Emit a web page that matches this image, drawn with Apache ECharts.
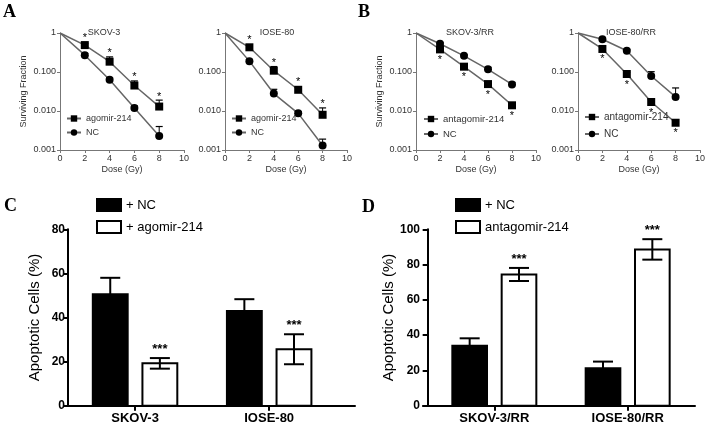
<!DOCTYPE html>
<html>
<head>
<meta charset="utf-8">
<script src="https://cdn.jsdelivr.net/npm/echarts@6/dist/echarts.min.js"></script>
<style>
html, body { margin: 0; padding: 0; background: #fff; }
#chart { width: 708px; height: 426px; }
</style>
</head>
<body>
<div id="chart"></div>
<script>
// ---- clonogenic survival (A, B) ----
var doses = [0, 2, 4, 6, 8];
var sigMarks = [0, 1, 1, 1, 1];

var skovAgo = [1, 0.49, 0.184, 0.045, 0.013];
var skovAgoSd = [0, 0.05, 0.06, 0.014, 0.006];
var skovNc = [1, 0.27, 0.063, 0.012, 0.0023];
var skovNcSd = [0, 0.03, 0.008, 0.0015, 0.0017];

var ioseAgo = [1, 0.43, 0.108, 0.035, 0.008];
var ioseAgoSd = [0, 0.05, 0.03, 0.006, 0.004];
var ioseNc = [1, 0.19, 0.028, 0.0087, 0.0013];
var ioseNcSd = [0, 0.02, 0.008, 0.001, 0.0006];

var skovRrAnt = [1, 0.38, 0.137, 0.049, 0.014];
var skovRrAntSd = [0, 0.03, 0.015, 0.006, 0.002];
var skovRrNc = [1, 0.53, 0.26, 0.117, 0.048];
var skovRrNcSd = [0, 0.04, 0.02, 0.015, 0.006];

var ioseRrAnt = [1, 0.39, 0.089, 0.017, 0.005];
var ioseRrAntSd = [0, 0.04, 0.01, 0.003, 0.001];
var ioseRrNc = [1, 0.69, 0.35, 0.079, 0.023];
var ioseRrNcSd = [0, 0.05, 0.03, 0.023, 0.016];

// ---- apoptosis (C, D) ----
var catsC = ['SKOV-3', 'IOSE-80'];
var ncC = [50.6, 43.0];
var ncCSd = [7.4, 5.3];
var agoC = [19.2, 25.6];
var agoCSd = [2.4, 6.8];
var sigC = [1, 1];

var catsD = ['SKOV-3/RR', 'IOSE-80/RR'];
var ncD = [34.0, 21.2];
var ncDSd = [4.2, 3.8];
var antD = [74.4, 88.6];
var antDSd = [3.7, 5.8];
var sigD = [1, 1];

var FONT = 'Liberation Sans';
var BAR_W = 0.52, BAR_OFF = 0.37;

var topPanels = [
	{ left: 60, width: 124, title: 'SKOV-3', titleX: 104, treat: 'agomir-214', t: skovAgo, tSd: skovAgoSd, nc: skovNc, ncSd: skovNcSd, star: 'up', yName: true, lgLeft: 61, lgTop: 109, lgGap: 5, lgFont: 9 },
	{ left: 225, width: 122, title: 'IOSE-80', titleX: 277, treat: 'agomir-214', t: ioseAgo, tSd: ioseAgoSd, nc: ioseNc, ncSd: ioseNcSd, star: 'up', yName: false, lgLeft: 226, lgTop: 109, lgGap: 5, lgFont: 9 },
	{ left: 416, width: 120, title: 'SKOV-3/RR', titleX: 470, treat: 'antagomir-214', t: skovRrAnt, tSd: skovRrAntSd, nc: skovRrNc, ncSd: skovRrNcSd, star: 'down', yName: true, lgLeft: 418, lgTop: 109, lgGap: 5, lgFont: 9.5 },
	{ left: 578, width: 125, title: 'IOSE-80/RR', titleX: 631, treat: 'antagomir-214', t: ioseRrAnt, tSd: ioseRrAntSd, nc: ioseRrNc, ncSd: ioseRrNcSd, star: 'down', yName: false, lgLeft: 579, lgTop: 107, lgGap: 7, lgFont: 10 }
];

var grids = [], xAxes = [], yAxes = [], series = [], legends = [], graphics = [];
var errSeries = [];

function logLabel(v)
{
	if (v >= 0.999) return '1';
	return v.toFixed(3);
}

function lineData(means)
{
	return doses.map(function(d, i){
		if (i === 0) return { value: [d, means[i]], symbol: 'none' };
		return [d, means[i]];
	});
}

function makeErrSeries(gi, means, sds, star)
{
	var data = doses.map(function(d, i){ return [d, means[i], sds[i], star ? sigMarks[i] : 0]; });
	return {
		type: 'custom', xAxisIndex: gi, yAxisIndex: gi, z: 1, silent: true, data: data,
		renderItem: function(params, api){
			var x = api.value(0), m = api.value(1), sd = api.value(2), s = api.value(3);
			var c = api.coord([x, m]);
			var children = [];
			var topY = c[1];
			if (sd > 0)
			{
				var t = api.coord([x, m + sd]);
				topY = t[1];
				children.push({ type: 'line', shape: { x1: c[0], y1: c[1], x2: t[0], y2: t[1] }, style: { stroke: '#000', lineWidth: 1 } });
				children.push({ type: 'line', shape: { x1: t[0] - 3.5, y1: t[1], x2: t[0] + 3.5, y2: t[1] }, style: { stroke: '#000', lineWidth: 1.2 } });
			}
			if (s && star === 'up')
			{
				children.push({ type: 'text', style: { text: '*', x: c[0], y: Math.min(topY, c[1] - 4) + 2, align: 'center', verticalAlign: 'bottom', font: '11px ' + FONT, fill: '#000' } });
			}
			else if (s && star === 'down')
			{
				children.push({ type: 'text', style: { text: '*', x: c[0], y: c[1] + 5, align: 'center', verticalAlign: 'top', font: '11px ' + FONT, fill: '#000' } });
			}
			return { type: 'group', children: children };
		}
	};
}

topPanels.forEach(function(p, gi){
	grids.push({ left: p.left, top: 33, width: p.width, height: 117 });
	xAxes.push({
		gridIndex: gi, type: 'value', min: 0, max: 10, interval: 2,
		name: 'Dose (Gy)', nameLocation: 'middle', nameGap: 15,
		nameTextStyle: { fontSize: 9, color: '#333', fontFamily: FONT },
		axisLine: { lineStyle: { color: '#777', width: 1 } },
		axisTick: { length: 3, lineStyle: { color: '#777' } },
		axisLabel: { fontSize: 9, color: '#333', margin: 4, fontFamily: FONT },
		splitLine: { show: false }
	});
	yAxes.push({
		gridIndex: gi, type: 'log', logBase: 10, min: 0.001, max: 1,
		name: p.yName ? 'Surviving Fraction' : '', nameLocation: 'middle', nameGap: 32,
		nameTextStyle: { fontSize: 9, color: '#333', fontFamily: FONT },
		axisLine: { show: true, lineStyle: { color: '#777', width: 1 } },
		axisTick: { show: true, length: 3, lineStyle: { color: '#777' } },
		minorTick: { show: false },
		axisLabel: { fontSize: 9, color: '#333', margin: 4, fontFamily: FONT, formatter: logLabel },
		splitLine: { show: false }
	});
	series.push({
		name: p.treat, type: 'line', xAxisIndex: gi, yAxisIndex: gi, z: 3,
		data: lineData(p.t), symbol: 'rect', symbolSize: 8,
		lineStyle: { color: '#666', width: 1.5 }, itemStyle: { color: '#000' }, silent: true
	});
	series.push({
		name: 'NC', type: 'line', xAxisIndex: gi, yAxisIndex: gi, z: 3,
		data: lineData(p.nc), symbol: 'circle', symbolSize: 8,
		lineStyle: { color: '#666', width: 1.5 }, itemStyle: { color: '#000' }, silent: true
	});
	errSeries.push(makeErrSeries(gi, p.t, p.tSd, p.star));
	errSeries.push(makeErrSeries(gi, p.nc, p.ncSd, null));
	legends.push({
		left: p.lgLeft, top: p.lgTop, orient: 'vertical', itemWidth: 14, itemHeight: 8, itemGap: p.lgGap,
		selectedMode: false, data: [p.treat, 'NC'],
		textStyle: { fontSize: p.lgFont, color: '#333', fontFamily: FONT }
	});
	graphics.push({ type: 'text', x: p.titleX, y: 33, style: { text: p.title, font: '9px ' + FONT, fill: '#333', align: 'center', verticalAlign: 'middle' } });
});

var bottomPanels = [
	{ left: 68, width: 287, min: 0, max: 4.28, ymax: 80, cats: catsC, nc: ncC, ncSd: ncCSd, t: agoC, tSd: agoCSd, sig: sigC, treat: '+ agomir-214', lgLeft: 91 },
	{ left: 423, width: 272, min: -0.07, max: 4.01, ymax: 100, cats: catsD, nc: ncD, ncSd: ncDSd, t: antD, tSd: antDSd, sig: sigD, treat: 'antagomir-214', lgLeft: 450 }
];

function makeBarSeries(gi, name, cats, vals, sds, sig, offset, fill)
{
	var data = cats.map(function(c, i){ return [2 * i + 1 + offset, vals[i], sds[i], sig ? sig[i] : 0]; });
	return {
		name: name, type: 'custom', xAxisIndex: gi, yAxisIndex: gi, z: 2, silent: true,
		itemStyle: { color: fill }, data: data,
		renderItem: function(params, api){
			var x = api.value(0), v = api.value(1), sd = api.value(2), s = api.value(3);
			var top = api.coord([x, v]), base = api.coord([x, 0]);
			var w = api.size([BAR_W, 0])[0];
			var hi = api.coord([x, v + sd]), lo = api.coord([x, v - sd]);
			var children = [
				{ type: 'rect', shape: { x: top[0] - w / 2, y: top[1], width: w, height: base[1] - top[1] }, style: { fill: fill, stroke: '#000', lineWidth: 2 } },
				{ type: 'line', shape: { x1: lo[0], y1: lo[1], x2: hi[0], y2: hi[1] }, style: { stroke: '#000', lineWidth: 2 } },
				{ type: 'line', shape: { x1: hi[0] - 10, y1: hi[1], x2: hi[0] + 10, y2: hi[1] }, style: { stroke: '#000', lineWidth: 2 } },
				{ type: 'line', shape: { x1: lo[0] - 10, y1: lo[1], x2: lo[0] + 10, y2: lo[1] }, style: { stroke: '#000', lineWidth: 2 } }
			];
			if (s)
			{
				children.push({ type: 'text', style: { text: '***', x: hi[0], y: hi[1] - 2, align: 'center', verticalAlign: 'bottom', font: 'bold 13px ' + FONT, fill: '#000' } });
			}
			return { type: 'group', children: children };
		}
	};
}

bottomPanels.forEach(function(p, k){
	var gi = 4 + k;
	grids.push({ left: p.left, top: 229.3, width: p.width, height: 176.4 });
	xAxes.push({
		gridIndex: gi, type: 'value', min: p.min, max: p.max,
		axisLine: { onZero: false, lineStyle: { color: '#000', width: 2 } },
		axisTick: { customValues: [1, 3], length: 5, lineStyle: { color: '#000', width: 2 } },
		axisLabel: { customValues: [1, 3], margin: 6, fontSize: 13, fontWeight: 'bold', color: '#000', fontFamily: FONT,
			formatter: function(v){ return p.cats[Math.round((v - 1) / 2)]; } },
		splitLine: { show: false }
	});
	yAxes.push({
		gridIndex: gi, type: 'value', min: 0, max: p.ymax, interval: 20,
		name: 'Apoptotic Cells (%)', nameLocation: 'middle', nameGap: 26,
		nameTextStyle: { fontSize: 15, color: '#000', fontFamily: FONT },
		axisLine: { show: true, lineStyle: { color: '#000', width: 2 } },
		axisTick: { show: true, length: 5, lineStyle: { color: '#000', width: 2 } },
		axisLabel: { fontSize: 12, fontWeight: 'bold', color: '#000', margin: 3, fontFamily: FONT },
		splitLine: { show: false }
	});
	errSeries.push(makeBarSeries(gi, '+ NC', p.cats, p.nc, p.ncSd, null, -BAR_OFF, '#000'));
	errSeries.push(makeBarSeries(gi, p.treat, p.cats, p.t, p.tSd, p.sig, BAR_OFF, '#fff'));
	legends.push({
		left: p.lgLeft, top: 193, orient: 'vertical', itemWidth: 24, itemHeight: 12, itemGap: 8,
		selectedMode: false,
		data: [
			{ name: '+ NC', icon: 'rect', itemStyle: { color: '#000', borderColor: '#000', borderWidth: 2 } },
			{ name: p.treat, icon: 'rect', itemStyle: { color: '#fff', borderColor: '#000', borderWidth: 2 } }
		],
		textStyle: { fontSize: 13, color: '#000', fontFamily: FONT }
	});
});

var letters = [['A', 3, 3], ['B', 358, 3], ['C', 4, 197], ['D', 362, 198]];
letters.forEach(function(l){
	graphics.push({ type: 'text', x: l[1], y: l[2], style: { text: l[0], font: 'bold 18px Liberation Serif', fill: '#000', align: 'left', verticalAlign: 'top' } });
});

var chart = echarts.init(document.getElementById('chart'));
chart.setOption({
	animation: false,
	backgroundColor: '#fff',
	textStyle: { fontFamily: FONT },
	grid: grids,
	xAxis: xAxes,
	yAxis: yAxes,
	legend: legends,
	graphic: graphics,
	series: series.concat(errSeries)
});
</script>
</body>
</html>
